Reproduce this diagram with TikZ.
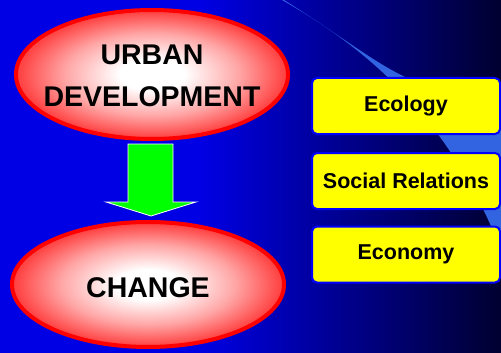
\documentclass[tikz,border=0pt]{standalone}
\usepackage{fontspec}
\setmainfont{Liberation Sans}
\usetikzlibrary{positioning,shapes.geometric,calc}

\definecolor{slideblue}{RGB}{0,0,228}
\definecolor{slidenavy}{RGB}{0,0,48}
\definecolor{swooshblue}{RGB}{50,100,225}
\definecolor{boxyellow}{RGB}{255,255,0}
\definecolor{arrowgreen}{RGB}{0,255,0}
\pgfdeclareradialshading{bubbleshade}{\pgfpoint{0bp}{0bp}}{color(0bp)=(white);
    color(6bp)=(white); color(16bp)=(red!35!white); color(24bp)=(red!72!white);
    color(25bp)=(red!75!white); color(50bp)=(red)}

\begin{document}
\begin{tikzpicture}[x=1pt, y=-1pt,
    bubble/.style={ellipse, draw=red, line width=4pt, shading=bubbleshade,
        inner sep=0pt, minimum width=272pt},
    bubbletext/.style={inner sep=0pt, align=center, font=\fontsize{28.5}{42}\selectfont\bfseries},
    topic/.style={rectangle, rounded corners=5pt, draw=blue, line width=2pt, fill=boxyellow,
        minimum width=188pt, minimum height=56pt, inner sep=0pt,
        font=\fontsize{21.5}{26}\selectfont\bfseries},
    flow/.style={draw=white, fill=arrowgreen, line width=0.8pt, line join=miter}]
    \useasboundingbox (0,0) rectangle (501,353);
    % Sfondo
    \fill[slideblue] (0,0) rectangle (501,353);
    \shade[left color=slideblue, right color=slidenavy] (200,0) rectangle (501,353);
    \fill[swooshblue] (282,0) .. controls (370,50) and (450,120) .. (501,250)
        -- (501,118) .. controls (480,105) and (440,95) .. (405,77)
        .. controls (370,60) and (340,35) .. (284,0) -- cycle;
    % Ellissi
    \node[bubble, minimum height=129pt] (urban) at (152,74.5) {};
    \node[bubbletext] (urbanlabel) at ($(urban.center)+(0,1.5)$) {URBAN\\DEVELOPMENT};
    \node[bubble, minimum height=125pt] (change) at (148,284.5) {};
    \node[bubbletext] (changelabel) at ($(change.center)+(0,3.5)$) {CHANGE};
    % Freccia
    \coordinate (tail) at ($(urban.south)+(-1.5,3)$);
    \coordinate (tip) at ($(change.north)+(3,-4)$);
    \draw[flow] ($(tail)+(-22.5,0)$) -- ($(tail)+(22.5,0)$) -- ($(tail)+(22.5,58)$)
        -- ($(tail)+(45.5,58)$) -- (tip) -- ($(tail)+(-44.5,58)$)
        -- ($(tail)+(-22.5,58)$) -- cycle;
    % Riquadri
    \node[topic] (ecology) at (406,106) {Ecology};
    \node[topic, below=17pt of ecology] (social) {Social Relations};
    \node[topic, below=15.5pt of social] (economy) {Economy};
\end{tikzpicture}
\end{document}
